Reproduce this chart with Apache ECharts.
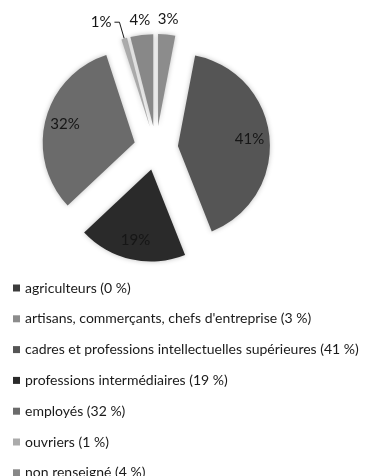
<!DOCTYPE html>
<html>
<head>
<meta charset="utf-8">
<script src="https://cdn.jsdelivr.net/npm/echarts@6/dist/echarts.min.js"></script>
<style>
  html, body { margin: 0; padding: 0; background: #fff; }
  #chart { width: 365px; height: 476px; }
</style>
</head>
<body>
<div id="chart"></div>
<script>
// Socio-professional categories (share in %), clockwise from 12 o'clock
const categories = [
  'agriculteurs',
  'artisans, commerçants, chefs d\'entreprise',
  'cadres et professions intellectuelles supérieures',
  'professions intermédiaires',
  'employés',
  'ouvriers',
  'non renseigné'
];
const shares = [0, 3, 41, 19, 32, 1, 4];
const sliceColors = ['#3c3c3c', '#8c8c8c', '#555555', '#2a2a2a', '#6b6b6b', '#ababab', '#888888'];

// which label style each slice gets
const insideLabels = [2, 3, 4];   // large slices: label inside
const rimLabels = [1, 6];         // small slices: label just past the rim
const leaderLabels = [5];         // tiny slice: label with a leader line

const CENTER = [156, 148];
const R = 92;
const OFFSET = 22;
const FONT = 'Lato, "Open Sans", sans-serif';

const chart = echarts.init(document.getElementById('chart'), null, { renderer: 'canvas' });

function baseData(mapper) {
  return categories.map((name, i) => Object.assign({ name: name, value: shares[i], selected: true }, mapper(i)));
}

const pctLabel = {
  formatter: p => p.value + '%',
  color: '#161616',
  fontFamily: FONT,
  fontSize: 15
};

const common = {
  type: 'pie',
  center: CENTER,
  startAngle: 90,
  clockwise: true,
  selectedMode: 'multiple',
  selectedOffset: OFFSET,
  avoidLabelOverlap: false,
  silent: true,
  animation: false,
  minAngle: 0,
  stillShowZeroSum: true
};

const option = {
  backgroundColor: '#ffffff',
  animation: false,
  legend: {
    orient: 'vertical',
    left: 8,
    top: 276,
    height: 260,
    icon: 'rect',
    itemWidth: 7,
    itemHeight: 7,
    itemGap: 16.8,
    selectedMode: false,
    data: categories,
    formatter: name => name + ' (' + shares[categories.indexOf(name)] + ' %)',
    textStyle: { fontFamily: FONT, fontSize: 14, color: '#1a1a1a', lineHeight: 14 }
  },
  series: [
    // the exploded pie itself, plus the leader-line label of the tiny slice
    Object.assign({}, common, {
      name: 'parts',
      radius: [0, R],
      label: { show: false },
      labelLine: { show: false },
      itemStyle: { shadowBlur: 5, shadowColor: 'rgba(0,0,0,0.25)' },
      data: baseData(i => {
        const item = { itemStyle: { color: sliceColors[i] } };
        if (leaderLabels.includes(i)) {
          item.label = Object.assign({}, pctLabel, {
            show: true, position: 'outside', distanceToLabelLine: 3,
            padding: [0, 0, 10, 0]
          });
          item.labelLine = { show: true, length: 17, length2: 5, smooth: false,
            lineStyle: { color: '#1a1a1a', width: 1 } };
        }
        return item;
      })
    }),
    // label ring for the large slices
    Object.assign({}, common, {
      name: 'inner labels',
      radius: [46, R],
      itemStyle: { color: 'rgba(0,0,0,0)' },
      labelLine: { show: false },
      label: Object.assign({}, pctLabel, { show: false, position: 'inside' }),
      data: baseData(i => insideLabels.includes(i) ? { label: { show: true } } : {})
    }),
    // label ring just outside the rim for the small slices
    Object.assign({}, common, {
      name: 'rim labels',
      radius: [R, 116],
      itemStyle: { color: 'rgba(0,0,0,0)' },
      labelLine: { show: false },
      label: Object.assign({}, pctLabel, { show: false, position: 'inside' }),
      data: baseData(i => rimLabels.includes(i) ? { label: { show: true } } : {})
    })
  ]
};

chart.setOption(option);
</script>
</body>
</html>
